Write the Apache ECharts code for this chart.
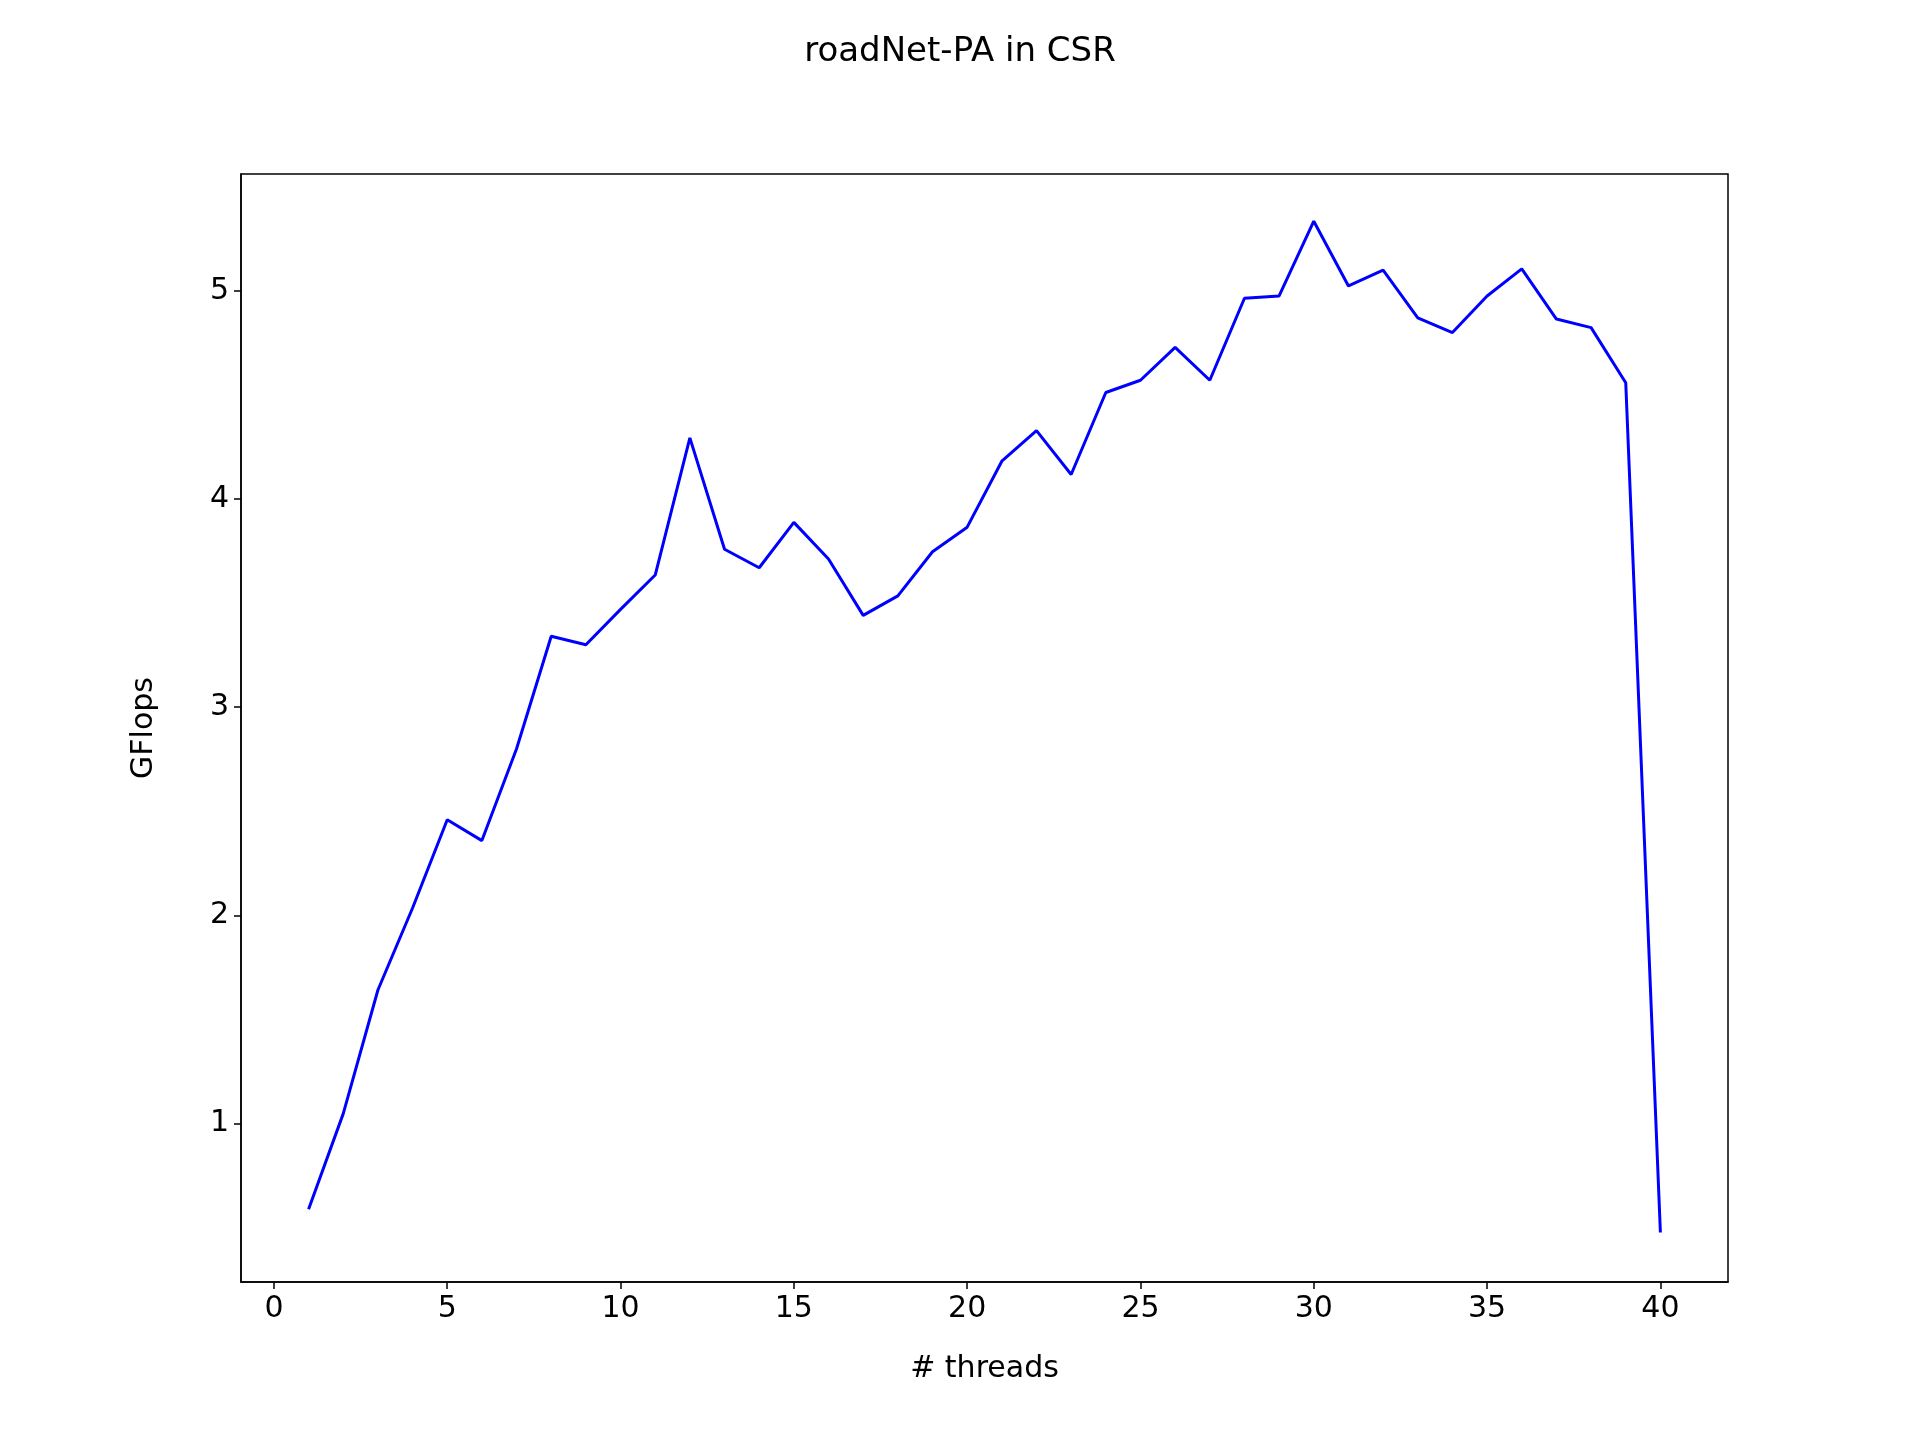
<!DOCTYPE html>
<html>
<head>
<meta charset="utf-8">
<script src="https://cdn.jsdelivr.net/npm/echarts@6/dist/echarts.min.js"></script>
<style>html,body{margin:0;background:#fff}#container{width:1920px;height:1440px}</style>
</head>
<body>
<div id="container"></div>
<script>
var threads = [];
for (var i = 1; i <= 40; i++) threads.push(i);
var gflops = [0.588, 1.047, 1.641, 2.035, 2.459, 2.359, 2.8, 3.341, 3.3, 3.47,
    3.635, 4.294, 3.759, 3.67, 3.888, 3.712, 3.441, 3.535, 3.747, 3.865,
    4.182, 4.329, 4.118, 4.512, 4.571, 4.729, 4.571, 4.965, 4.976, 5.335,
    5.024, 5.1, 4.871, 4.8, 4.976, 5.106, 4.865, 4.824, 4.559, 0.476];
var xTicks = [0, 5, 10, 15, 20, 25, 30, 35, 40];
var yTicks = [1, 2, 3, 4, 5];

var font = 'DejaVu Sans';
var myChart = echarts.init(document.getElementById('container'));
myChart.setOption({
    animation: false,
    title: {
        text: 'roadNet-PA in CSR', left: 'center', top: 30,
        textStyle: {fontFamily: font, fontSize: 34, fontWeight: 'normal', color: '#000'}
    },
    grid: {left: 241, right: 192, top: 174, bottom: 158, show: true, borderColor: '#000', borderWidth: 1.5},
    xAxis: {
        type: 'value', min: -0.95, max: 41.95,
        name: '# threads', nameLocation: 'middle', nameGap: 72,
        nameTextStyle: {fontFamily: font, fontSize: 30, color: '#000'},
        axisLine: {show: true, onZero: false, lineStyle: {color: '#000', width: 1.5}},
        axisTick: {show: true, length: 7, customValues: xTicks, lineStyle: {color: '#000', width: 1.5}},
        axisLabel: {customValues: xTicks, fontFamily: font, fontSize: 30, color: '#000', margin: 12},
        splitLine: {show: false}
    },
    yAxis: {
        type: 'value', min: 0.238, max: 5.562,
        name: 'GFlops', nameLocation: 'middle', nameGap: 82,
        nameTextStyle: {fontFamily: font, fontSize: 30, color: '#000'},
        axisLine: {show: true, onZero: false, lineStyle: {color: '#000', width: 1.5}},
        axisTick: {show: true, length: 7, customValues: yTicks, lineStyle: {color: '#000', width: 1.5}},
        axisLabel: {customValues: yTicks, fontFamily: font, fontSize: 30, color: '#000', margin: 12},
        splitLine: {show: false}
    },
    series: [{
        type: 'line',
        data: threads.map(function (t, i) { return [t, gflops[i]]; }),
        showSymbol: false,
        lineStyle: {color: '#0000ff', width: 3}
    }]
});
</script>
</body>
</html>
